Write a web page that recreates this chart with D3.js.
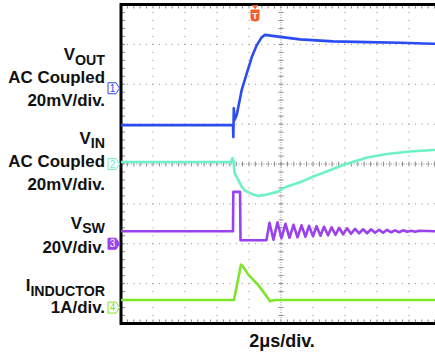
<!DOCTYPE html>
<html>
<head>
<meta charset="utf-8">
<script src="https://cdn.jsdelivr.net/npm/d3@7"></script>
<style>
  body { margin: 0; background: #fff; }
  text { font-family: "Liberation Sans", Arial, sans-serif; font-weight: bold; fill: #111; }
</style>
</head>
<body>
<div id="scope"></div>
<script>
// time axis: 2us/div, 10 div across
var timeRange = [0, 20];
var divRange = [-4, 4];
var trigT = 8.375;

// CH1 Vout (mV, AC coupled)
var voutT = [0, 7.0, 7.02, 7.05, 7.09, 7.23, 7.54, 7.86, 8.17, 8.48, 8.79, 9.0, 9.94, 11.19, 13.25, 15.38, 17.44, 19.5, 20];
var voutV = [-18.5, -18.5, -24.5, -10, -16, -13.5, -1, 7.5, 15.5, 21.5, 25.5, 26.75, 25.75, 24.5, 23.5, 23.15, 22.85, 22.35, 22.3];

// CH2 Vin (mV, AC coupled)
var vinT = [0, 6.875, 6.97, 7.03, 7.09, 7.19, 7.33, 7.54, 7.75, 8.17, 8.58, 9.0, 9.42, 9.83, 10.25, 10.67, 11.29, 12.02, 12.94, 13.88, 15.38, 16.63, 18.06, 19.5, 20];
var vinV = [1, 1, 3, 1.5, -4, -6, -8, -11.35, -13.35, -15, -16, -15.5, -14.65, -13.85, -11.65, -10.5, -8.85, -6.3, -3.5, -0.5, 3.25, 5, 6.25, 7, 7.1];

// CH3 Vsw (V)
var vswT = [0, 7.0, 7.02, 7.44, 7.47, 9.09,
  9.28, 9.53, 9.78, 10.03, 10.28, 10.53, 10.78, 11.03, 11.28, 11.53, 11.75, 12.0, 12.22,
  12.47, 12.69, 12.94, 13.16, 13.41, 13.63, 13.88, 14.13, 14.38, 14.63, 14.88, 15.13,
  15.38, 15.63, 15.88, 16.13, 16.38, 16.63, 16.88, 17.13, 17.38, 17.63, 17.88, 18.13,
  18.38, 18.63, 19.63, 20];
var vswV = [6.25, 6.25, 26, 26, 1.75, 1.75,
  10.5, 2, 10.75, 2.75, 10, 3, 9.5, 3.25, 9.25, 3.5, 9, 3.75, 8.75,
  4, 8.5, 4.25, 8.25, 4.5, 8, 4.75, 7.75, 5, 7.5, 5.25, 7.25,
  5.25, 7.25, 5.5, 7, 5.5, 7, 5.75, 6.75, 5.75, 6.75, 6, 6.5,
  6, 6.5, 6.25, 6.25];

// CH4 inductor current (A)
var indT = [0, 7.06, 7.5, 7.63, 7.96, 8.58, 9.11, 9.31, 9.63, 20];
var indV = [0.19, 0.19, 1.075, 1.025, 0.825, 0.5625, 0.28, 0.16, 0.19, 0.19];

var channels = [
  { n: "1", t: voutT, v: voutV, pos: 1.9, perDiv: 20, color: "#2a4cf2", filled: false },
  { n: "2", t: vinT, v: vinV, pos: 0, perDiv: 20, color: "#6ef0c9", filled: false },
  { n: "3", t: vswT, v: vswV, pos: -2, perDiv: 20, color: "#9a42ee", filled: true },
  { n: "4", t: indT, v: indV, pos: -3.6, perDiv: 1, color: "#7ee52c", filled: false }
];

var width = 435, height = 356;
var gridColor = "#8c8c8c";

var svg = d3.select("#scope").append("svg")
  .attr("width", width)
  .attr("height", height);

var x = d3.scaleLinear().domain(timeRange).range([121, 441]);
var y = d3.scaleLinear().domain(divRange).range([323.5, 4.5]);

var grid = svg.append("g");

// dotted graticule, dots every 1/5 div
d3.range(1, 10).filter(function (i) { return i != 5; }).forEach(function (i) {
  var gx = x(i * 2);
  grid.selectAll(null)
    .data(d3.range(1, 40))
    .enter().append("rect")
    .attr("x", gx - 0.5)
    .attr("y", function (k) { return y(-4 + k / 5) - 0.5; })
    .attr("width", 1).attr("height", 1)
    .attr("fill", gridColor);
});
d3.range(-3, 4).filter(function (j) { return j != 0; }).forEach(function (j) {
  var gy = y(j);
  grid.selectAll(null)
    .data(d3.range(1, 50))
    .enter().append("rect")
    .attr("x", function (k) { return x(k * 0.4) - 0.5; })
    .attr("y", gy - 0.5)
    .attr("width", 1).attr("height", 1)
    .attr("fill", gridColor);
});

// center cross with minor ticks
var cx = x(10), cy = y(0);
grid.append("line")
  .attr("x1", cx).attr("x2", cx).attr("y1", y(4)).attr("y2", y(-4))
  .attr("stroke", gridColor).attr("stroke-dasharray", "1,1.5");
grid.append("line")
  .attr("x1", x(0)).attr("x2", x(20)).attr("y1", cy).attr("y2", cy)
  .attr("stroke", gridColor).attr("stroke-dasharray", "1,1.5");
grid.selectAll(null)
  .data(d3.range(1, 40))
  .enter().append("line")
  .attr("x1", cx - 2.5).attr("x2", cx + 2.5)
  .attr("y1", function (k) { return y(-4 + k / 5); })
  .attr("y2", function (k) { return y(-4 + k / 5); })
  .attr("stroke", gridColor);
grid.selectAll(null)
  .data(d3.range(1, 50))
  .enter().append("line")
  .attr("y1", cy - 2.5).attr("y2", cy + 2.5)
  .attr("x1", function (k) { return x(k * 0.4); })
  .attr("x2", function (k) { return x(k * 0.4); })
  .attr("stroke", gridColor);

// border ticks
grid.selectAll(null)
  .data(d3.range(1, 50))
  .enter().append("line")
  .attr("x1", function (k) { return x(k * 0.4); })
  .attr("x2", function (k) { return x(k * 0.4); })
  .attr("y1", y(4)).attr("y2", y(4) + 4)
  .attr("stroke", gridColor);
grid.selectAll(null)
  .data(d3.range(1, 50))
  .enter().append("line")
  .attr("x1", function (k) { return x(k * 0.4); })
  .attr("x2", function (k) { return x(k * 0.4); })
  .attr("y1", y(-4)).attr("y2", y(-4) - 4)
  .attr("stroke", gridColor);
grid.selectAll(null)
  .data(d3.range(1, 40))
  .enter().append("line")
  .attr("x1", x(0)).attr("x2", x(0) + 4)
  .attr("y1", function (k) { return y(-4 + k / 5); })
  .attr("y2", function (k) { return y(-4 + k / 5); })
  .attr("stroke", gridColor);

// frame
svg.append("path")
  .attr("d", "M" + (x(20)) + "," + y(4) + "H" + x(0) + "V" + y(-4) + "H" + x(20))
  .attr("fill", "none")
  .attr("stroke", "#000")
  .attr("stroke-width", 3);

// traces
channels.forEach(function (ch) {
  var pts = ch.t.map(function (t, i) { return [t, ch.v[i]]; });
  var line = d3.line()
    .x(function (d) { return x(d[0]); })
    .y(function (d) { return y(ch.pos + d[1] / ch.perDiv); });
  svg.append("path")
    .datum(pts)
    .attr("d", line)
    .attr("fill", "none")
    .attr("stroke", ch.color)
    .attr("stroke-width", 2.6)
    .attr("stroke-linejoin", "round");
});

// channel ground markers
channels.forEach(function (ch) {
  var my = y(ch.pos);
  svg.append("path")
    .attr("d", "M108," + (my - 5.5) + "H116L119.5," + my + "L116," + (my + 5.5) + "H108Z")
    .attr("fill", ch.filled ? ch.color : "#fff")
    .attr("stroke", ch.color)
    .attr("stroke-width", 1);
  svg.append("text")
    .attr("x", 112.5).attr("y", my + 3.5)
    .attr("text-anchor", "middle")
    .style("font-size", "10px")
    .style("font-weight", "normal")
    .style("fill", ch.filled ? "#fff" : ch.color)
    .text(ch.n);
});

// trigger marker
var tx = x(trigT);
svg.append("path")
  .attr("d", "M" + (tx - 3.5) + ",5L" + (tx + 3.5) + ",5L" + tx + ",9Z")
  .attr("fill", "#f0602a");
svg.append("path")
  .attr("d", "M" + (tx - 4.5) + ",9.5H" + (tx + 4.5) + "V18Q" + (tx + 4.5) + ",21.5 " + tx + ",21.5Q" + (tx - 4.5) + ",21.5 " + (tx - 4.5) + ",18Z")
  .attr("fill", "#f0602a");
svg.append("text")
  .attr("x", tx).attr("y", 18.5)
  .attr("text-anchor", "middle")
  .style("font-size", "9px")
  .style("fill", "#fff")
  .text("T");

// labels
var labels = [
  { main: "V", sub: "OUT", y: 60 },
  { main: "AC Coupled", y: 83 },
  { main: "20mV/div.", y: 105.5 },
  { main: "V", sub: "IN", y: 143.5 },
  { main: "AC Coupled", y: 166.5 },
  { main: "20mV/div.", y: 189.5 },
  { main: "V", sub: "SW", y: 228.5 },
  { main: "20V/div.", y: 252.5 },
  { main: "I", sub: "INDUCTOR", y: 291 },
  { main: "1A/div.", y: 313 }
];
labels.forEach(function (l) {
  var t = svg.append("text")
    .attr("x", 105).attr("y", l.y)
    .attr("text-anchor", "end")
    .style("font-size", "16.9px");
  t.append("tspan").text(l.main);
  if (l.sub) {
    t.append("tspan")
      .attr("dy", 4.5)
      .style("font-size", "14.2px")
      .text(l.sub);
  }
});

svg.append("text")
  .attr("x", x(10) + 1).attr("y", 347)
  .attr("text-anchor", "middle")
  .style("font-size", "18px")
  .text("2\u03bcs/div.");
</script>
</body>
</html>
